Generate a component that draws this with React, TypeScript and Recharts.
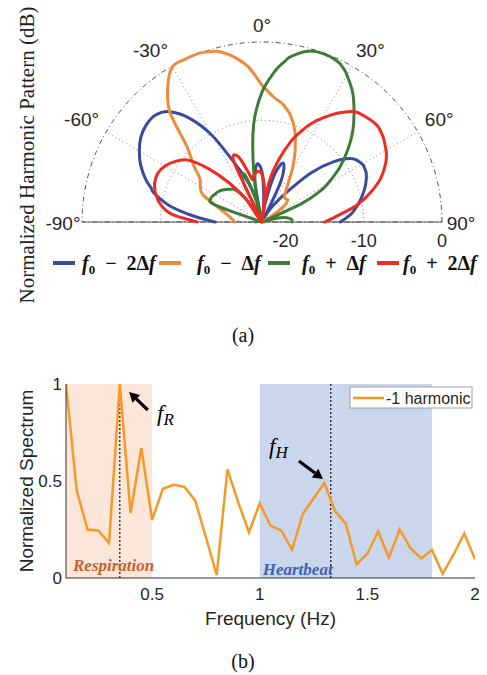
import React from 'react';
import {
  RadarChart, Radar, PolarGrid, PolarAngleAxis, PolarRadiusAxis,
  LineChart, Line, XAxis, YAxis, ReferenceArea, ReferenceLine, ReferenceDot, Label,
} from 'recharts';

// ---------------- (a) Normalized harmonic pattern (dB) ----------------
const patternAngles = [-90,-85,-80,-75,-73,-70,-65,-60,-55,-50,-45,-40,-35,-30,-25,-20,-15,-13,-10,-5,0,5,8,10,15,20,25,28,30,35,40,45,50,55,60,62,65,70,75,80,85,90];
const patternMinus2 = [-17.0,-14.2,-11.0,-8.7,-8.2,-7.2,-5.9,-4.9,-4.1,-3.7,-3.7,-4.6,-6.8,-10.2,-14.7,-17.3,-19.8,-23.0,-17.9,-15.6,-16.6,-20.4,-23.0,-20.4,-16.6,-15.0,-17.3,-23.0,-21.7,-20.2,-17.9,-14.1,-11.0,-8.9,-8.2,-8.2,-8.3,-8.9,-9.7,-10.6,-11.6,-13.0];
const patternMinus1 = [-19.5,-19.2,-18.7,-17.9,-17.4,-16.6,-14.6,-13.9,-13.3,-11.5,-9.5,-4.7,-2.0,-0.1,0,0,-0.4,-0.8,-1.5,-3.1,-5.5,-6.9,-7.4,-7.7,-8.9,-10.7,-13.0,-14.4,-15.3,-17.3,-18.5,-18.8,-18.7,-19.8,-22.0,-23.0,-22.2,-22.0,-22.2,-22.5,-22.6,-22.7];
const patternPlus1 = [-22.2,-22.4,-22.5,-22.6,-23.0,-16.6,-15.8,-16.0,-16.2,-16.6,-17.1,-17.6,-19.2,-22.6,-17.3,-16.6,-20.2,-23.0,-17.3,-10.6,-6.4,-3.6,-2.3,-1.5,-0.4,-0.1,-0.3,-0.8,-1.3,-2.8,-4.7,-6.6,-8.7,-10.9,-13.4,-14.6,-17.3,-22.4,-21.1,-19.8,-19.2,-19.2];
const patternPlus2 = [-14.7,-11.4,-9.8,-8.9,-8.7,-8.4,-8.3,-8.7,-9.5,-10.7,-13.4,-16.5,-19.5,-22.6,-14.6,-14.1,-16.6,-17.4,-17.0,-16.5,-16.9,-19.2,-23.0,-17.9,-14.8,-11.9,-9.6,-8.4,-7.7,-6.0,-4.6,-4.1,-3.8,-4.1,-4.7,-5.0,-5.6,-6.9,-8.7,-10.7,-13.2,-15.0];
const angleTicks = [-90, -60, -30, 0, 30, 60, 90];
const radiusTicks = [-20, -10, 0];
const radiusMin = -23;
const radiusMax = 0;

const patternSeries = [
  { key: 'minus2', color: '#3A4A9E', op: '\u2212', mult: '2' },
  { key: 'minus1', color: '#EE8A3C', op: '\u2212', mult: '' },
  { key: 'plus1', color: '#3F7C38', op: '+', mult: '' },
  { key: 'plus2', color: '#EE2B22', op: '+', mult: '2' },
];

// ---------------- (b) Normalized spectrum ----------------
const frequencies = [0.1,0.15,0.2,0.25,0.3,0.35,0.4,0.45,0.5,0.55,0.6,0.65,0.7,0.75,0.8,0.85,0.9,0.95,1.0,1.05,1.1,1.15,1.2,1.25,1.3,1.35,1.4,1.45,1.5,1.55,1.6,1.65,1.7,1.75,1.8,1.85,1.9,1.95,2.0];
const spectrum = [1.0,0.45,0.25,0.245,0.18,1.0,0.335,0.67,0.30,0.46,0.48,0.47,0.40,0.21,0.015,0.56,0.39,0.235,0.385,0.27,0.245,0.145,0.33,0.41,0.49,0.345,0.28,0.07,0.125,0.24,0.105,0.25,0.155,0.10,0.145,0.022,0.12,0.23,0.097];
const freqTicks = [0.5, 1, 1.5, 2];
const spectrumTicks = [0, 0.5, 1];
const respirationBand = [0.1, 0.5];
const heartbeatBand = [1.0, 1.8];
const fR = 0.35;
const fH = 1.33;
const fRArrow = [{ x: 0.48, y: 0.866 }, { x: 0.393, y: 0.959 }];
const fHArrow = [{ x: 1.182, y: 0.603 }, { x: 1.294, y: 0.51 }];
const fRTextAt = { x: 0.523, y: 0.809 };
const fHTextAt = { x: 1.043, y: 0.639 };

// ---------------- layout ----------------
const CX = 262;
const CY = 222;
const R = 180;
const LABEL_R = 188;
const SANS = 'Liberation Sans, Arial, sans-serif';
const SERIF = 'Liberation Serif, Times New Roman, serif';

const patternRows = patternAngles.map((a, i) => ({
  angle: a,
  minus2: patternMinus2[i],
  minus1: patternMinus1[i],
  plus1: patternPlus1[i],
  plus2: patternPlus2[i],
}));
const spectrumRows = frequencies.map((f, i) => ({ freq: f, value: spectrum[i] }));

const radiusPx = (v: number) => ((v - radiusMin) / (radiusMax - radiusMin)) * R;
const arcAngles = Array.from({ length: 91 }, (_, i) => i * 2);

function smoothOpenPath(pts: any[]) {
  if (!pts || !pts.length) return '';
  const isCorner = (p: any) => Math.hypot(p.x - (p.cx ?? CX), p.y - (p.cy ?? CY)) < 0.6;
  let d = `M${pts[0].x},${pts[0].y}`;
  const k = 1 / 6;
  for (let i = 0; i < pts.length - 1; i++) {
    const p0 = pts[i - 1] || pts[i];
    const p1 = pts[i];
    const p2 = pts[i + 1];
    const p3 = pts[i + 2] || p2;
    let c1x = p1.x + (p2.x - p0.x) * k;
    let c1y = p1.y + (p2.y - p0.y) * k;
    let c2x = p2.x - (p3.x - p1.x) * k;
    let c2y = p2.y - (p3.y - p1.y) * k;
    if (isCorner(p1)) { c1x = p1.x; c1y = p1.y; }
    if (isCorner(p2)) { c2x = p2.x; c2y = p2.y; }
    d += ` C${c1x},${c1y} ${c2x},${c2y} ${p2.x},${p2.y}`;
  }
  return d;
}

const openCurve = (color: string) => (props: any) => (
  <path
    d={smoothOpenPath(props.points || [])}
    fill="none"
    stroke={color}
    strokeWidth={3}
    strokeLinejoin="round"
    strokeLinecap="round"
  />
);

const renderAngleTick = (props: any) => {
  const v = Number(props?.payload?.value);
  if (!angleTicks.includes(v)) return <g />;
  const rad = (v * Math.PI) / 180;
  const common = { fontSize: 19, fill: '#262626', fontFamily: SANS };
  if (Math.abs(v) === 90) {
    const x = CX + 199 * Math.sin(rad);
    return (
      <text x={x} y={CY + 1} textAnchor="middle" dominantBaseline="central" {...common}>
        {`${v}\u00B0`}
      </text>
    );
  }
  const x = CX + LABEL_R * Math.sin(rad);
  const y = CY - LABEL_R * Math.cos(rad);
  const anchor = v > 0 ? 'start' : v < 0 ? 'end' : 'middle';
  return (
    <text x={x} y={y - 2} textAnchor={anchor} {...common}>
      {`${v}\u00B0`}
    </text>
  );
};

const renderRadiusTick = (props: any) => {
  const v = Number(props?.payload?.value);
  if (!radiusTicks.includes(v)) return <g />;
  return (
    <text x={props.x} y={props.y + 19} textAnchor="middle" dominantBaseline="central" fontSize={18} fill="#262626" fontFamily={SANS}>
      {String(v)}
    </text>
  );
};

const renderArrow = (props: any) => {
  const { x1, y1, x2, y2 } = props;
  const dx = x2 - x1;
  const dy = y2 - y1;
  const len = Math.hypot(dx, dy) || 1;
  const ux = dx / len;
  const uy = dy / len;
  const head = 10;
  const half = 5.5;
  const bx = x2 - ux * head;
  const by = y2 - uy * head;
  return (
    <g>
      <line x1={x1} y1={y1} x2={bx} y2={by} stroke="#000" strokeWidth={3.2} />
      <polygon
        points={`${x2},${y2} ${bx - uy * half},${by + ux * half} ${bx + uy * half},${by - ux * half}`}
        fill="#000"
      />
    </g>
  );
};

const annot = (main: string, sub: string) => (props: any) => (
  <text x={props.cx} y={props.cy} fontFamily={SERIF} fontStyle="italic" fontSize={23} fill="#000">
    {main}
    <tspan dy={4} fontSize={17}>{sub}</tspan>
  </text>
);

const renderYLabel = (props: any) => {
  const vb = props.viewBox || {};
  const x = (vb.x ?? 26) + 7;
  const y = (vb.y ?? 14) + (vb.height ?? 194) / 2;
  return (
    <text transform={`translate(${x},${y}) rotate(-90)`} textAnchor="middle" fontSize={19} fill="#262626" fontFamily={SANS}>
      Normalized Spectrum
    </text>
  );
};

const legendLineX = [53, 159, 268, 377];
const legendTextX = [82, 197, 302, 403];

export default function App() {
  return (
    <div style={{ position: 'absolute', left: 0, top: 0, width: 487, height: 675, background: '#fff', overflow: 'hidden' }}>
      {/* (a) polar pattern */}
      <div style={{ position: 'absolute', left: 0, top: 0 }}>
        <RadarChart
          width={487}
          height={256}
          data={patternRows}
          cx={CX}
          cy={CY}
          outerRadius={R}
          innerRadius={0}
          startAngle={180}
          endAngle={0}
          margin={{ top: 0, right: 0, bottom: 0, left: 0 }}
        >
          <PolarGrid gridType="polygon" polarAngles={arcAngles} polarRadius={[radiusPx(-20), radiusPx(-10)]} radialLines={false} stroke="#8a8a8a" strokeDasharray="1 3" fill="none" />
          <PolarGrid gridType="polygon" polarAngles={[30, 60, 120, 150]} polarRadius={[]} stroke="#8a8a8a" strokeDasharray="1 3" fill="none" />
          <PolarGrid gridType="polygon" polarAngles={arcAngles} polarRadius={[R]} radialLines={false} stroke="#555" strokeDasharray="5 3 1 3" fill="none" />
          <PolarGrid gridType="polygon" polarAngles={[0, 180]} polarRadius={[]} stroke="#555" strokeWidth={1.2} fill="none" />
          <PolarAngleAxis
            dataKey="angle"
            type="number"
            domain={[-90, 90]}
            ticks={angleTicks as any}
            tickCount={7}
            axisLine={false}
            tickLine={false}
            tick={renderAngleTick}
          />
          <PolarRadiusAxis
            angle={0}
            type="number"
            domain={[radiusMin, radiusMax]}
            allowDataOverflow
            ticks={radiusTicks as any}
            tickCount={3}
            axisLine={false}
            tickLine={false}
            tick={renderRadiusTick}
          />
          {patternSeries.map((s) => (
            <Radar
              key={s.key}
              dataKey={s.key}
              stroke={s.color}
              fill="none"
              dot={false}
              isAnimationActive={false}
              shape={openCurve(s.color)}
            />
          ))}
        </RadarChart>
      </div>

      {/* (b) spectrum */}
      <div style={{ position: 'absolute', left: 0, top: 370 }}>
        <LineChart width={487} height={270} data={spectrumRows} margin={{ top: 14, right: 12, bottom: 32, left: 26 }}>
          <ReferenceArea
            x1={respirationBand[0]}
            x2={respirationBand[1]}
            y1={0}
            y2={1}
            fill="#FBE6D9"
            fillOpacity={1}
            stroke="none"
            ifOverflow="visible"
            label={{ value: 'Respiration', position: 'insideBottomLeft', offset: 7, fill: '#C4622D', fontSize: 17, fontFamily: SERIF, fontWeight: 'bold', fontStyle: 'italic' }}
          />
          <ReferenceArea
            x1={heartbeatBand[0]}
            x2={heartbeatBand[1]}
            y1={0}
            y2={1}
            fill="#C9D6EC"
            fillOpacity={1}
            stroke="none"
            ifOverflow="visible"
            label={{ value: 'Heartbeat', position: 'insideBottomLeft', offset: 3, fill: '#3D62B4', fontSize: 17, fontFamily: SERIF, fontWeight: 'bold', fontStyle: 'italic' }}
          />
          <ReferenceLine x={fR} stroke="#111" strokeDasharray="2 2" strokeWidth={1.2} />
          <ReferenceLine x={fH} stroke="#111" strokeDasharray="2 2" strokeWidth={1.2} />
          <XAxis
            dataKey="freq"
            type="number"
            domain={[0.1, 2]}
            ticks={freqTicks}
            allowDataOverflow
            height={30}
            tickLine={false}
            tickSize={0}
            tickMargin={10}
            axisLine={{ stroke: '#333' }}
            tick={{ fontSize: 17, fill: '#262626', fontFamily: SANS }}
            tickFormatter={(v: number) => String(v)}
          >
            <Label value="Frequency (Hz)" position="bottom" offset={4} fontSize={19} fill="#262626" fontFamily={SANS} />
          </XAxis>
          <YAxis
            type="number"
            domain={[0, 1]}
            ticks={spectrumTicks}
            allowDataOverflow
            width={40}
            tickLine={false}
            tickSize={0}
            tickMargin={4}
            axisLine={{ stroke: '#333' }}
            tick={{ fontSize: 17, fill: '#262626', fontFamily: SANS }}
            tickFormatter={(v: number) => String(v)}
          >
            <Label content={renderYLabel} />
          </YAxis>
          <Line type="linear" dataKey="value" stroke="#F39A29" strokeWidth={2.5} dot={false} isAnimationActive={false} />
          <ReferenceLine segment={fRArrow} shape={renderArrow} ifOverflow="visible" />
          <ReferenceLine segment={fHArrow} shape={renderArrow} ifOverflow="visible" />
          <ReferenceDot x={fRTextAt.x} y={fRTextAt.y} r={0} ifOverflow="visible" shape={annot('f', 'R')} />
          <ReferenceDot x={fHTextAt.x} y={fHTextAt.y} r={0} ifOverflow="visible" shape={annot('f', 'H')} />
        </LineChart>
      </div>

      {/* overlay text & legends */}
      <svg width={487} height={675} style={{ position: 'absolute', left: 0, top: 0, pointerEvents: 'none' }}>
        <text transform="translate(34,155) rotate(-90)" textAnchor="middle" fontFamily={SERIF} fontSize={21} fill="#222">
          Normalized Harmonic Pattern (dB)
        </text>
        {patternSeries.map((s, i) => (
          <g key={s.key}>
            <line x1={legendLineX[i]} y1={263} x2={legendLineX[i] + 22} y2={263} stroke={s.color} strokeWidth={4} />
            <text x={legendTextX[i]} y={270} fontFamily={SERIF} fontSize={20} fontWeight="bold" fill="#111">
              <tspan fontStyle="italic">f</tspan>
              <tspan dy={4} fontSize={13}>0</tspan>
              <tspan dy={-4}>{`\u2002${s.op}\u2002${s.mult}\u0394`}</tspan>
              <tspan fontStyle="italic">f</tspan>
            </text>
          </g>
        ))}
        <text x={243} y={342} textAnchor="middle" fontFamily={SERIF} fontSize={20} fill="#111">(a)</text>

        <rect x={350} y={387} width={122} height={21} fill="#fff" stroke="#a0a0a0" strokeWidth={1} />
        <line x1={353} y1={398} x2={384} y2={398} stroke="#F39A29" strokeWidth={2.5} />
        <text x={386} y={404} fontFamily={SANS} fontSize={16} fill="#262626">-1 harmonic</text>
        <text x={243} y={668} textAnchor="middle" fontFamily={SERIF} fontSize={20} fill="#111">(b)</text>
      </svg>
    </div>
  );
}
